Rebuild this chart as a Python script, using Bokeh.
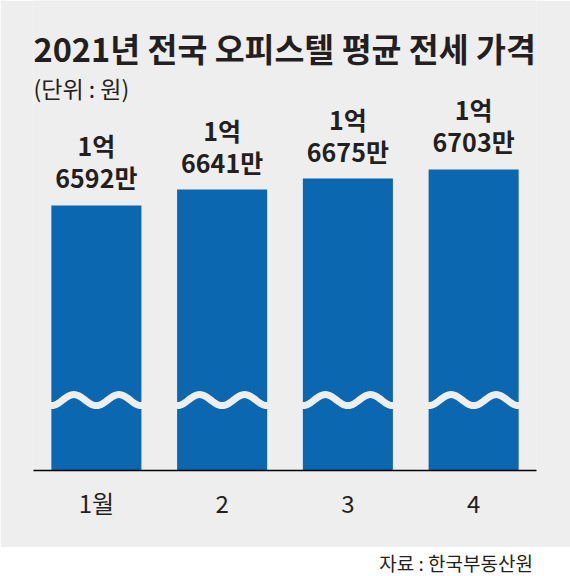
import numpy as np
from bokeh.plotting import figure
from bokeh.models import Range1d, FixedTicker, Label, ColumnDataSource
from bokeh.layouts import column
from bokeh.embed import file_html
from bokeh.resources import INLINE
from bokeh.core.properties import value

# ---- data ----
months = ["1월", "2", "3", "4"]
prices = [16592, 16641, 16675, 16703]  # 만원
title_text = "2021년 전국 오피스텔 평균 전세 가격"
unit_text = "(단위 : 원)"
source_text = "자료 : 한국부동산원"

# broken value axis (만원)
Y_START = 15775
Y_END = 17224
BREAK_LEVEL = 15992
WAVE_AMP = 17
WAVE_PERIOD = 0.358

BG = "#eeeeee"
BLUE = "#0a67b0"
INK = "#231f20"
FONT = "Noto Sans CJK KR"

xs = list(range(len(months)))
eok = [f"{v // 10000}억" for v in prices]
man = [f"{v % 10000}만" for v in prices]

p = figure(width=570, height=547, x_range=Range1d(-0.5, 3.5),
           y_range=Range1d(Y_START, Y_END), output_backend="svg",
           toolbar_location=None, title=None, y_axis_location=None,
           min_border_left=33, min_border_right=34, min_border_top=0,
           min_border_bottom=77)
p.background_fill_color = BG
p.border_fill_color = BG
p.outline_line_color = None
p.grid.visible = False

src = ColumnDataSource(dict(x=xs, top=prices, eok=eok, man=man))
p.vbar(x="x", top="top", bottom=Y_START, width=0.716, source=src,
       fill_color=BLUE, line_color=None)

# wavy break marks
dx = np.linspace(-0.37, 0.37, 150)
wave_y = BREAK_LEVEL - WAVE_AMP * np.cos(2 * np.pi * dx / WAVE_PERIOD)
p.multi_line(xs=[list(i + dx) for i in xs], ys=[list(wave_y) for _ in xs],
             line_color=BG, line_width=7)

# value labels
p.text(x="x", y="top", text="man", source=src, text_align="center",
       text_baseline="alphabetic", y_offset=-28, text_font=value(FONT),
       text_font_style="bold", text_font_size="25px", text_color=INK)
p.text(x="x", y="top", text="eok", source=src, text_align="center",
       text_baseline="alphabetic", y_offset=-60, text_font=value(FONT),
       text_font_style="bold", text_font_size="25px", text_color=INK)

# x axis
ax = p.xaxis[0]
ax.ticker = FixedTicker(ticks=xs)
ax.major_label_overrides = {i: m for i, m in zip(xs, months)}
ax.major_tick_line_color = None
ax.minor_tick_line_color = None
ax.major_tick_out = 0
ax.major_tick_in = 0
ax.minor_tick_out = 0
ax.axis_line_color = "black"
ax.axis_line_width = 1.5
ax.major_label_text_font = FONT
ax.major_label_text_font_size = "24px"
ax.major_label_text_color = INK
ax.major_label_standoff = 14

# titles
p.add_layout(Label(x=0, y=423, x_units="screen", y_units="screen",
                   text=title_text, text_font=FONT, text_font_style="bold",
                   text_font_size="32.5px", text_color=INK,
                   text_baseline="alphabetic"))
p.add_layout(Label(x=0, y=383, x_units="screen", y_units="screen",
                   text=unit_text, text_font=FONT, text_font_size="23px",
                   text_color=INK, text_baseline="alphabetic"))

# source strip
p2 = figure(width=570, height=29, output_backend="svg", toolbar_location=None,
            title=None, x_axis_location=None, y_axis_location=None,
            min_border=0, x_range=Range1d(0, 570), y_range=Range1d(0, 29))
p2.background_fill_color = "white"
p2.border_fill_color = "white"
p2.outline_line_color = None
p2.grid.visible = False
p2.text(x=[566], y=[14], text=[source_text], text_align="right",
        text_baseline="middle", text_font=value(FONT), text_font_size="19px",
        text_color=INK)

layout = column(p, p2)
open("out.html", "w").write(file_html(layout, INLINE))
